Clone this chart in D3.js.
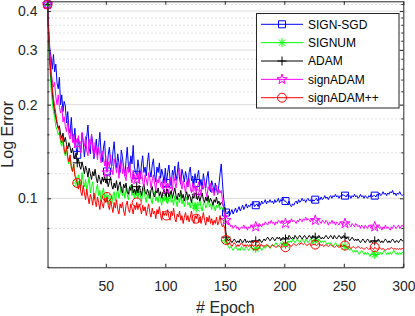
<!DOCTYPE html>
<html>
<head>
<meta charset="utf-8">
<script src="https://cdn.jsdelivr.net/npm/d3@7"></script>
<style>
  body { margin: 0; background: #fff; }
  svg { display: block; font-family: "Liberation Sans", Arial, sans-serif; }
</style>
</head>
<body>
<div id="container"></div>
<script>
/* CONSTANTS AND GLOBALS */
const width = 415,
  height = 316,
  margin = { top: 1.3, right: 11.7, bottom: 48.7, left: 47.5 };

/* DATA (one value per epoch) */
const seriesNames = ["SIGN-SGD", "SIGNUM", "ADAM", "signADAM", "signADAM++"];
const xTicks = [50, 100, 150, 200, 250, 300];
const yTicks = [0.1, 0.2, 0.3, 0.4];
const yMinorTicks = [0.06, 0.08, 0.12, 0.14, 0.16, 0.18, 0.22, 0.24, 0.26, 0.28, 0.32, 0.34, 0.36, 0.38, 0.42];

const signSGD = [
  0.42, 0.35, 0.30, 0.285, 0.26, 0.29, 0.255, 0.27, 0.235, 0.225, 0.245, 0.2, 0.215, 0.19, 0.205, 0.198, 0.175, 0.19, 0.168, 0.162, 0.182, 0.158, 0.152, 0.168, 0.146,
  0.138, 0.155, 0.149, 0.141, 0.162, 0.152, 0.136, 0.148, 0.158, 0.172, 0.145, 0.139, 0.16, 0.151, 0.134, 0.142, 0.155, 0.138, 0.147, 0.163, 0.14, 0.131, 0.145, 0.153, 0.129,
  0.122, 0.138, 0.146, 0.131, 0.127, 0.141, 0.152, 0.133, 0.125, 0.139, 0.13, 0.121, 0.143, 0.136, 0.124, 0.118, 0.132, 0.146, 0.127, 0.122, 0.137, 0.129, 0.148, 0.126, 0.121,
  0.119, 0.133, 0.124, 0.116, 0.129, 0.137, 0.121, 0.126, 0.118, 0.131, 0.14, 0.123, 0.117, 0.128, 0.134, 0.119, 0.113, 0.126, 0.121, 0.13, 0.116, 0.124, 0.119, 0.112, 0.125,
  0.112, 0.121, 0.128, 0.116, 0.11, 0.123, 0.118, 0.127, 0.114, 0.12, 0.131, 0.115, 0.111, 0.124, 0.119, 0.113, 0.122, 0.117, 0.109, 0.121, 0.126, 0.114, 0.118, 0.11, 0.12,
  0.112, 0.118, 0.123, 0.11, 0.115, 0.107, 0.12, 0.113, 0.108, 0.117, 0.122, 0.109, 0.105, 0.114, 0.11, 0.104, 0.112, 0.107, 0.103, 0.11, 0.12, 0.129, 0.113, 0.1, 0.094,
  0.09, 0.089, 0.091, 0.088, 0.09, 0.092, 0.089, 0.091, 0.093, 0.09, 0.092, 0.094, 0.091, 0.093, 0.095, 0.092, 0.094, 0.096, 0.093, 0.095, 0.094, 0.096, 0.095, 0.097, 0.094,
  0.095, 0.096, 0.094, 0.097, 0.095, 0.098, 0.096, 0.097, 0.099, 0.096, 0.098, 0.097, 0.099, 0.097, 0.098, 0.096, 0.099, 0.097, 0.098, 0.1, 0.097, 0.099, 0.098, 0.1, 0.098,
  0.098, 0.097, 0.096, 0.098, 0.095, 0.094, 0.096, 0.095, 0.097, 0.098, 0.096, 0.099, 0.097, 0.098, 0.1, 0.098, 0.099, 0.097, 0.099, 0.1, 0.098, 0.099, 0.097, 0.099, 0.098,
  0.099, 0.1, 0.098, 0.1, 0.099, 0.101, 0.099, 0.1, 0.102, 0.1, 0.101, 0.099, 0.101, 0.102, 0.1, 0.102, 0.101, 0.103, 0.101, 0.102, 0.1, 0.102, 0.101, 0.103, 0.102,
  0.102, 0.101, 0.103, 0.101, 0.102, 0.1, 0.102, 0.101, 0.103, 0.101, 0.102, 0.1, 0.101, 0.103, 0.101, 0.102, 0.1, 0.102, 0.101, 0.1, 0.102, 0.101, 0.103, 0.101, 0.102,
  0.102, 0.101, 0.103, 0.102, 0.104, 0.102, 0.103, 0.105, 0.103, 0.104, 0.102, 0.104, 0.103, 0.105, 0.104, 0.106, 0.103, 0.104, 0.102, 0.104, 0.103, 0.105, 0.103, 0.102, 0.103
];

const signum = [
  0.42, 0.31, 0.26, 0.225, 0.205, 0.19, 0.182, 0.17, 0.166, 0.16, 0.163, 0.151, 0.147, 0.153, 0.141, 0.137, 0.144, 0.133, 0.129, 0.136, 0.126, 0.122, 0.129, 0.119, 0.117,
  0.112, 0.119, 0.114, 0.108, 0.121, 0.113, 0.109, 0.115, 0.106, 0.111, 0.117, 0.104, 0.109, 0.113, 0.103, 0.099, 0.107, 0.111, 0.102, 0.106, 0.098, 0.104, 0.108, 0.1, 0.097,
  0.101, 0.097, 0.095, 0.1, 0.096, 0.102, 0.105, 0.098, 0.103, 0.107, 0.1, 0.104, 0.109, 0.102, 0.106, 0.1, 0.108, 0.103, 0.099, 0.105, 0.11, 0.102, 0.106, 0.1, 0.104,
  0.105, 0.1, 0.106, 0.102, 0.098, 0.104, 0.108, 0.101, 0.097, 0.103, 0.1, 0.106, 0.099, 0.096, 0.102, 0.105, 0.098, 0.101, 0.097, 0.103, 0.099, 0.095, 0.101, 0.098, 0.102,
  0.1, 0.096, 0.101, 0.104, 0.097, 0.099, 0.095, 0.102, 0.098, 0.094, 0.1, 0.097, 0.103, 0.096, 0.099, 0.094, 0.098, 0.101, 0.095, 0.097, 0.093, 0.099, 0.096, 0.092, 0.097,
  0.093, 0.097, 0.095, 0.099, 0.094, 0.091, 0.096, 0.098, 0.093, 0.095, 0.1, 0.094, 0.096, 0.092, 0.097, 0.094, 0.091, 0.095, 0.093, 0.096, 0.092, 0.094, 0.093, 0.091, 0.09,
  0.073, 0.071, 0.07, 0.069, 0.07, 0.069, 0.068, 0.069, 0.07, 0.069, 0.068, 0.069, 0.068, 0.07, 0.069, 0.068, 0.069, 0.07, 0.069, 0.068, 0.069, 0.07, 0.069, 0.068, 0.069,
  0.069, 0.068, 0.069, 0.07, 0.069, 0.068, 0.069, 0.07, 0.069, 0.07, 0.071, 0.07, 0.069, 0.07, 0.071, 0.07, 0.071, 0.072, 0.071, 0.07, 0.071, 0.072, 0.071, 0.072, 0.071,
  0.071, 0.072, 0.073, 0.072, 0.073, 0.072, 0.074, 0.073, 0.072, 0.073, 0.074, 0.073, 0.072, 0.073, 0.074, 0.073, 0.072, 0.074, 0.073, 0.072, 0.073, 0.074, 0.073, 0.072, 0.073,
  0.073, 0.072, 0.073, 0.074, 0.073, 0.072, 0.073, 0.072, 0.073, 0.072, 0.071, 0.072, 0.071, 0.072, 0.071, 0.07, 0.071, 0.072, 0.071, 0.07, 0.071, 0.07, 0.071, 0.07, 0.071,
  0.07, 0.069, 0.07, 0.069, 0.068, 0.069, 0.068, 0.067, 0.068, 0.067, 0.068, 0.067, 0.066, 0.067, 0.068, 0.067, 0.066, 0.067, 0.066, 0.067, 0.066, 0.065, 0.066, 0.067, 0.066,
  0.066, 0.065, 0.066, 0.067, 0.066, 0.067, 0.066, 0.067, 0.068, 0.067, 0.066, 0.067, 0.066, 0.067, 0.066, 0.067, 0.068, 0.067, 0.066, 0.067, 0.066, 0.067, 0.066, 0.067, 0.067
];

const adam = [
  0.42, 0.33, 0.28, 0.245, 0.22, 0.202, 0.19, 0.182, 0.174, 0.168, 0.171, 0.161, 0.156, 0.162, 0.152, 0.157, 0.149, 0.144, 0.151, 0.146, 0.14, 0.145, 0.138, 0.134, 0.14,
  0.13, 0.134, 0.127, 0.124, 0.131, 0.126, 0.12, 0.127, 0.123, 0.117, 0.125, 0.12, 0.115, 0.122, 0.118, 0.124, 0.116, 0.112, 0.119, 0.115, 0.111, 0.117, 0.113, 0.118, 0.112,
  0.115, 0.109, 0.113, 0.117, 0.11, 0.107, 0.112, 0.108, 0.114, 0.106, 0.11, 0.113, 0.107, 0.104, 0.111, 0.108, 0.112, 0.105, 0.103, 0.109, 0.106, 0.111, 0.104, 0.107, 0.103,
  0.109, 0.104, 0.11, 0.106, 0.102, 0.108, 0.111, 0.105, 0.103, 0.107, 0.104, 0.1, 0.106, 0.109, 0.103, 0.101, 0.106, 0.104, 0.108, 0.102, 0.105, 0.1, 0.104, 0.107, 0.102,
  0.104, 0.107, 0.101, 0.103, 0.106, 0.1, 0.104, 0.108, 0.102, 0.099, 0.104, 0.101, 0.106, 0.1, 0.103, 0.098, 0.102, 0.105, 0.099, 0.103, 0.101, 0.097, 0.102, 0.1, 0.104,
  0.103, 0.099, 0.102, 0.098, 0.101, 0.104, 0.099, 0.097, 0.101, 0.098, 0.102, 0.097, 0.1, 0.098, 0.095, 0.099, 0.097, 0.101, 0.096, 0.098, 0.095, 0.097, 0.096, 0.094, 0.093,
  0.075, 0.074, 0.073, 0.074, 0.073, 0.072, 0.073, 0.074, 0.073, 0.072, 0.073, 0.072, 0.074, 0.073, 0.072, 0.073, 0.074, 0.072, 0.073, 0.072, 0.073, 0.072, 0.073, 0.072, 0.073,
  0.073, 0.072, 0.073, 0.074, 0.073, 0.072, 0.073, 0.074, 0.073, 0.074, 0.075, 0.074, 0.073, 0.074, 0.075, 0.074, 0.073, 0.074, 0.075, 0.074, 0.075, 0.073, 0.074, 0.075, 0.074,
  0.074, 0.075, 0.074, 0.076, 0.075, 0.074, 0.075, 0.074, 0.076, 0.075, 0.074, 0.075, 0.076, 0.075, 0.074, 0.075, 0.076, 0.075, 0.074, 0.075, 0.076, 0.075, 0.074, 0.076, 0.075,
  0.075, 0.074, 0.075, 0.076, 0.075, 0.074, 0.075, 0.074, 0.075, 0.076, 0.075, 0.074, 0.075, 0.076, 0.075, 0.074, 0.076, 0.075, 0.074, 0.075, 0.076, 0.075, 0.074, 0.075, 0.076,
  0.075, 0.074, 0.075, 0.074, 0.073, 0.074, 0.075, 0.074, 0.073, 0.074, 0.073, 0.074, 0.073, 0.072, 0.073, 0.074, 0.073, 0.072, 0.073, 0.074, 0.073, 0.072, 0.073, 0.072, 0.073,
  0.073, 0.072, 0.073, 0.074, 0.073, 0.072, 0.073, 0.072, 0.073, 0.074, 0.073, 0.072, 0.073, 0.072, 0.073, 0.074, 0.073, 0.072, 0.073, 0.073, 0.072, 0.073, 0.074, 0.073, 0.073
];

const signAdam = [
  0.42, 0.34, 0.295, 0.255, 0.24, 0.228, 0.236, 0.212, 0.2, 0.215, 0.196, 0.188, 0.198, 0.176, 0.183, 0.17, 0.164, 0.177, 0.16, 0.155, 0.169, 0.152, 0.161, 0.148, 0.154,
  0.15, 0.159, 0.146, 0.14, 0.163, 0.153, 0.147, 0.158, 0.142, 0.137, 0.155, 0.149, 0.161, 0.143, 0.136, 0.151, 0.144, 0.133, 0.146, 0.139, 0.13, 0.142, 0.135, 0.127, 0.137,
  0.121, 0.131, 0.126, 0.138, 0.124, 0.119, 0.134, 0.128, 0.121, 0.13, 0.116, 0.125, 0.133, 0.12, 0.127, 0.118, 0.114, 0.126, 0.121, 0.131, 0.117, 0.112, 0.123, 0.119, 0.114,
  0.115, 0.122, 0.112, 0.118, 0.124, 0.113, 0.109, 0.119, 0.115, 0.11, 0.121, 0.116, 0.108, 0.114, 0.119, 0.111, 0.106, 0.115, 0.112, 0.118, 0.109, 0.113, 0.107, 0.111, 0.116,
  0.107, 0.112, 0.109, 0.117, 0.111, 0.106, 0.119, 0.113, 0.108, 0.115, 0.122, 0.125, 0.112, 0.107, 0.114, 0.11, 0.104, 0.113, 0.109, 0.116, 0.108, 0.104, 0.112, 0.107, 0.11,
  0.105, 0.109, 0.113, 0.106, 0.102, 0.11, 0.107, 0.114, 0.105, 0.101, 0.109, 0.106, 0.112, 0.104, 0.108, 0.102, 0.106, 0.11, 0.103, 0.107, 0.104, 0.106, 0.099, 0.092, 0.087,
  0.085, 0.083, 0.082, 0.083, 0.081, 0.082, 0.08, 0.081, 0.082, 0.08, 0.081, 0.079, 0.08, 0.081, 0.08, 0.082, 0.08, 0.081, 0.079, 0.081, 0.08, 0.082, 0.081, 0.08, 0.082,
  0.081, 0.082, 0.081, 0.083, 0.082, 0.081, 0.083, 0.082, 0.084, 0.083, 0.082, 0.084, 0.083, 0.085, 0.083, 0.084, 0.082, 0.084, 0.083, 0.085, 0.084, 0.083, 0.085, 0.084, 0.083,
  0.083, 0.084, 0.083, 0.085, 0.084, 0.086, 0.084, 0.085, 0.084, 0.083, 0.085, 0.084, 0.086, 0.085, 0.084, 0.086, 0.085, 0.087, 0.085, 0.086, 0.085, 0.084, 0.086, 0.085, 0.086,
  0.085, 0.084, 0.086, 0.085, 0.084, 0.083, 0.085, 0.084, 0.083, 0.085, 0.084, 0.082, 0.084, 0.083, 0.085, 0.083, 0.084, 0.082, 0.084, 0.083, 0.082, 0.084, 0.083, 0.082, 0.084,
  0.083, 0.082, 0.084, 0.083, 0.082, 0.081, 0.083, 0.082, 0.081, 0.083, 0.082, 0.081, 0.082, 0.08, 0.082, 0.081, 0.08, 0.082, 0.081, 0.08, 0.082, 0.081, 0.08, 0.081, 0.082,
  0.081, 0.08, 0.082, 0.081, 0.08, 0.081, 0.079, 0.081, 0.08, 0.082, 0.08, 0.081, 0.08, 0.079, 0.081, 0.08, 0.082, 0.081, 0.08, 0.081, 0.082, 0.08, 0.081, 0.082, 0.081
];

const signAdamPP = [
  0.42, 0.33, 0.28, 0.25, 0.228, 0.21, 0.198, 0.187, 0.176, 0.169, 0.164, 0.155, 0.151, 0.158, 0.144, 0.139, 0.147, 0.136, 0.131, 0.138, 0.126, 0.122, 0.129, 0.118, 0.115,
  0.112, 0.107, 0.114, 0.105, 0.102, 0.11, 0.104, 0.099, 0.107, 0.101, 0.096, 0.103, 0.1, 0.095, 0.104, 0.098, 0.094, 0.101, 0.097, 0.092, 0.099, 0.096, 0.093, 0.1, 0.097,
  0.101, 0.095, 0.092, 0.098, 0.094, 0.09, 0.097, 0.093, 0.099, 0.092, 0.089, 0.096, 0.093, 0.097, 0.091, 0.088, 0.095, 0.098, 0.092, 0.09, 0.096, 0.093, 0.089, 0.095, 0.092,
  0.097, 0.092, 0.096, 0.093, 0.089, 0.095, 0.091, 0.094, 0.088, 0.092, 0.096, 0.09, 0.087, 0.093, 0.089, 0.091, 0.086, 0.092, 0.089, 0.094, 0.088, 0.085, 0.091, 0.088, 0.09,
  0.088, 0.092, 0.087, 0.085, 0.091, 0.088, 0.093, 0.086, 0.084, 0.089, 0.087, 0.091, 0.085, 0.088, 0.083, 0.087, 0.09, 0.085, 0.088, 0.084, 0.087, 0.091, 0.086, 0.083, 0.088,
  0.086, 0.089, 0.084, 0.087, 0.083, 0.086, 0.09, 0.085, 0.082, 0.087, 0.084, 0.088, 0.083, 0.086, 0.082, 0.085, 0.083, 0.087, 0.082, 0.084, 0.088, 0.083, 0.081, 0.082, 0.08,
  0.0735, 0.072, 0.071, 0.072, 0.071, 0.07, 0.071, 0.072, 0.071, 0.07, 0.071, 0.07, 0.071, 0.072, 0.071, 0.07, 0.071, 0.07, 0.071, 0.07, 0.071, 0.07, 0.071, 0.07, 0.0705,
  0.0705, 0.07, 0.071, 0.07, 0.0705, 0.071, 0.07, 0.0705, 0.07, 0.071, 0.0705, 0.07, 0.0695, 0.07, 0.071, 0.0705, 0.07, 0.0695, 0.07, 0.0705, 0.07, 0.0695, 0.07, 0.0705, 0.07,
  0.0696, 0.07, 0.0705, 0.071, 0.0705, 0.07, 0.071, 0.0715, 0.071, 0.0705, 0.071, 0.0715, 0.071, 0.072, 0.0715, 0.071, 0.0715, 0.071, 0.0705, 0.071, 0.0715, 0.071, 0.0705, 0.071, 0.071,
  0.071, 0.0705, 0.071, 0.0715, 0.071, 0.0705, 0.071, 0.07, 0.0705, 0.071, 0.0705, 0.07, 0.0705, 0.071, 0.0705, 0.07, 0.0695, 0.07, 0.0705, 0.07, 0.0695, 0.07, 0.0705, 0.07, 0.0705,
  0.0705, 0.07, 0.0695, 0.07, 0.0695, 0.069, 0.0695, 0.07, 0.0695, 0.069, 0.0695, 0.07, 0.0695, 0.069, 0.0695, 0.069, 0.0685, 0.069, 0.0695, 0.069, 0.0685, 0.069, 0.0695, 0.069, 0.0685,
  0.0696, 0.069, 0.0685, 0.069, 0.0695, 0.069, 0.0685, 0.069, 0.0685, 0.068, 0.0685, 0.069, 0.0685, 0.069, 0.0695, 0.069, 0.0685, 0.069, 0.0685, 0.069, 0.0685, 0.069, 0.0685, 0.069, 0.0688
];

const allSeries = [signSGD, signum, adam, signAdam, signAdamPP];
const colors = ["#0000ff", "#00ff00", "#000000", "#ff00ff", "#ff0000"];
const markerTypes = ["square", "asterisk", "plus", "star", "circle"];

/* SCALES */
const x = d3.scaleLinear()
  .domain([1, 300])
  .range([margin.left, width - margin.right]);

const y = d3.scaleLog()
  .domain([0.06, 0.43])
  .range([height - margin.bottom, margin.top]);

const axisColor = "#262626";

/* MARKER SHAPES */
function markerPath(type) {
  if (type === "square") return "M-3.5,-3.5H3.5V3.5H-3.5Z";
  if (type === "plus") return "M-4.5,0H4.5M0,-4.5V4.5";
  if (type === "asterisk") return "M-4.5,0H4.5M0,-4.5V4.5M-3.2,-3.2L3.2,3.2M-3.2,3.2L3.2,-3.2";
  if (type === "star") return d3.symbol(d3.symbolStar, 32)();
  return d3.symbol(d3.symbolCircle, Math.PI * 4.5 * 4.5)();
}

const svg = d3.select("#container")
  .append("svg")
  .attr("width", width)
  .attr("height", height)
  .style("background-color", "white");

/* GRID */
const x0 = margin.left, x1 = width - margin.right;

svg.append("g")
  .selectAll("line")
  .data(yMinorTicks)
  .join("line")
  .attr("x1", x0).attr("x2", x1)
  .attr("y1", d => y(d)).attr("y2", d => y(d))
  .attr("stroke", "#c4c4c4")
  .attr("stroke-width", 1)
  .attr("stroke-dasharray", "1,3");

svg.append("g")
  .selectAll("line")
  .data(yTicks)
  .join("line")
  .attr("x1", x0).attr("x2", x1)
  .attr("y1", d => y(d)).attr("y2", d => y(d))
  .attr("stroke", "#dcdcdc")
  .attr("stroke-width", 1);

/* LINES */
const lineGen = d3.line()
  .x((d, i) => x(i + 1))
  .y(d => y(d));

const markerIdx = d3.range(0, 300, 25);

allSeries.forEach((vals, s) => {
  svg.append("path")
    .datum(vals)
    .attr("d", lineGen)
    .attr("fill", "none")
    .attr("stroke", colors[s])
    .attr("stroke-width", 1)
    .attr("stroke-linejoin", "round");

  svg.append("g")
    .selectAll("path")
    .data(markerIdx)
    .join("path")
    .attr("transform", i => `translate(${x(i + 1)},${y(vals[i])})`)
    .attr("d", markerPath(markerTypes[s]))
    .attr("fill", "none")
    .attr("stroke", colors[s])
    .attr("stroke-width", 1);
});

/* AXES (box with inward ticks) */
const xAxisB = d3.axisBottom(x).tickValues(xTicks).tickSizeInner(-3.5).tickSizeOuter(0).tickPadding(14);
const xAxisT = d3.axisTop(x).tickValues(xTicks).tickSizeInner(-3.5).tickSizeOuter(0).tickFormat("");
const yAxisL = d3.axisLeft(y).tickValues(yTicks).tickSizeInner(-3.5).tickSizeOuter(0).tickPadding(10).tickFormat(d3.format(".1f"));
const yAxisR = d3.axisRight(y).tickValues(yTicks).tickSizeInner(-3.5).tickSizeOuter(0).tickFormat("");

function styleAxis(g) {
  g.select(".domain").attr("stroke", axisColor);
  g.selectAll(".tick line").attr("stroke", axisColor);
  g.selectAll(".tick text")
    .attr("fill", axisColor)
    .style("font-family", "Liberation Sans, Arial, sans-serif")
    .style("font-size", "14px");
}

svg.append("g").attr("transform", `translate(0,${height - margin.bottom})`).call(xAxisB).call(styleAxis);
svg.append("g").attr("transform", `translate(0,${margin.top})`).call(xAxisT).call(styleAxis);
svg.append("g").attr("transform", `translate(${x0},0)`).call(yAxisL).call(styleAxis);
svg.append("g").attr("transform", `translate(${x1},0)`).call(yAxisR).call(styleAxis);

// minor y ticks on both sides
svg.append("g")
  .selectAll("path")
  .data(yMinorTicks)
  .join("path")
  .attr("d", d => `M${x0},${y(d)}h2M${x1},${y(d)}h-2`)
  .attr("stroke", axisColor)
  .attr("stroke-width", 1);

/* AXIS LABELS */
svg.append("text")
  .attr("x", (x0 + x1) / 2)
  .attr("y", 313)
  .attr("text-anchor", "middle")
  .attr("fill", axisColor)
  .style("font-size", "16px")
  .text("# Epoch");

svg.append("text")
  .attr("transform", `translate(13,${(margin.top + height - margin.bottom) / 2}) rotate(-90)`)
  .attr("text-anchor", "middle")
  .attr("fill", axisColor)
  .style("font-size", "16px")
  .text("Log Error");

/* LEGEND */
const legend = svg.append("g");

legend.append("rect")
  .attr("x", 256.5).attr("y", 13.5)
  .attr("width", 142.5).attr("height", 94.5)
  .attr("fill", "white")
  .attr("stroke", axisColor)
  .attr("stroke-width", 1);

const rows = legend.selectAll("g.row")
  .data(seriesNames)
  .join("g")
  .attr("class", "row")
  .attr("transform", (d, i) => `translate(0,${24.3 + i * 18.35})`);

rows.append("line")
  .attr("x1", 261).attr("x2", 303)
  .attr("stroke", (d, i) => colors[i])
  .attr("stroke-width", 1);

rows.append("path")
  .attr("transform", "translate(282,0)")
  .attr("d", (d, i) => markerPath(markerTypes[i]))
  .attr("fill", "none")
  .attr("stroke", (d, i) => colors[i])
  .attr("stroke-width", 1);

rows.append("text")
  .attr("x", 308)
  .attr("y", 4.3)
  .attr("fill", "#000")
  .style("font-size", "12px")
  .text(d => d);
</script>
</body>
</html>
